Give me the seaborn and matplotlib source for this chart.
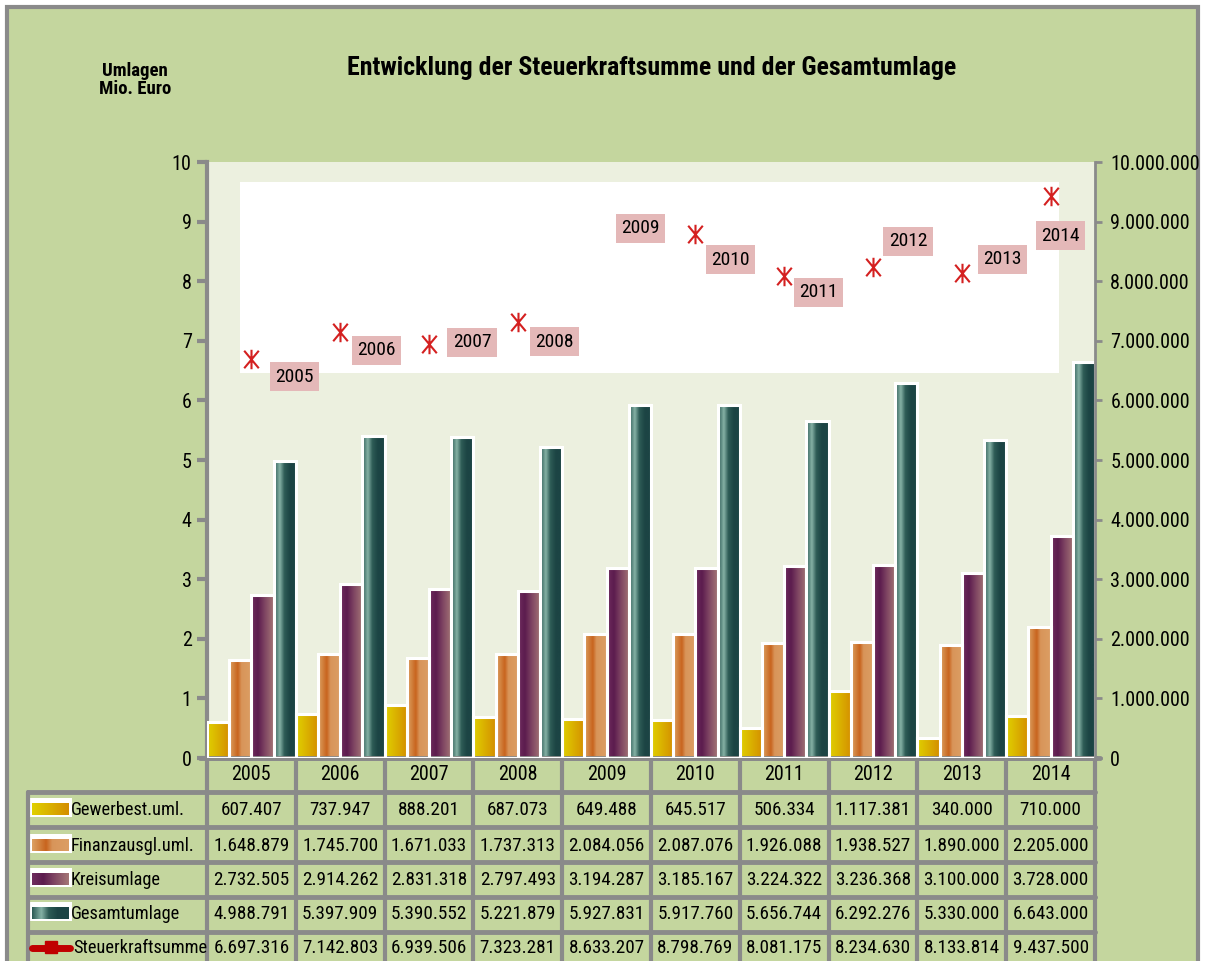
import matplotlib
matplotlib.use("Agg")
import matplotlib.pyplot as plt
import numpy as np
import pandas as pd
import seaborn as sns
from matplotlib import font_manager
from matplotlib.colors import LinearSegmentedColormap
from matplotlib.patches import Rectangle
from matplotlib.path import Path

# --- Daten ---
jahre = [str(j) for j in range(2005, 2015)]
gewerbest = [607407, 737947, 888201, 687073, 649488, 645517, 506334, 1117381, 340000, 710000]
finanzausgl = [1648879, 1745700, 1671033, 1737313, 2084056, 2087076, 1926088, 1938527, 1890000, 2205000]
kreisumlage = [2732505, 2914262, 2831318, 2797493, 3194287, 3185167, 3224322, 3236368, 3100000, 3728000]
gesamtumlage = [4988791, 5397909, 5390552, 5221879, 5927831, 5917760, 5656744, 6292276, 5330000, 6643000]
steuerkraft = [6697316, 7142803, 6939506, 7323281, 8633207, 8798769, 8081175, 8234630, 8133814, 9437500]
serien = ["Gewerbest.uml.", "Finanzausgl.uml.", "Kreisumlage", "Gesamtumlage"]
linie = "Steuerkraftsumme"

# label offsets (pixels, dx / dy downwards) for the year boxes
label_offsets = [(43, 18), (36, 18), (43, -2), (37, 20), (34, -15),
                 (35, 26), (34, 16), (35, -26), (41, -14), (10, 40)]

W, H = 1208, 961
GREEN = "#c4d69e"
PALE = "#ecf0df"
GREY = "#8a8a8a"
PINK = "#e4b8b8"
RED = "#d42020"

# pick a condensed family close to Arial Narrow
installed = {f.name for f in font_manager.fontManager.ttflist}
narrow = next((f for f in ["Liberation Sans Narrow", "Roboto Condensed", "Archivo Narrow",
                           "PT Sans Narrow", "Sofia Sans Condensed", "Cabin Condensed"]
               if f in installed), "Liberation Sans")
FONT = [narrow, "DejaVu Sans"]

gradients = {
    "Gewerbest.uml.": [(0, "#e0d000"), (0.5, "#dab000"), (1, "#d48e00")],
    "Finanzausgl.uml.": [(0, "#dca062"), (0.25, "#cf7a36"), (0.38, "#c8641e"),
                         (0.55, "#d8955a"), (1, "#dc9e64")],
    "Kreisumlage": [(0, "#6e2c5e"), (0.3, "#5c1c4e"), (0.6, "#7e4462"), (1, "#a47676")],
    "Gesamtumlage": [(0, "#2c5a54"), (0.25, "#86b2a6"), (0.45, "#2e5c56"),
                     (0.7, "#1c4444"), (1, "#1c4444")],
}
cmaps = {k: LinearSegmentedColormap.from_list(k, v) for k, v in gradients.items()}
base_colors = {"Gewerbest.uml.": "#dab000", "Finanzausgl.uml.": "#d8955a",
               "Kreisumlage": "#6e2c5e", "Gesamtumlage": "#1c4444"}

sns.set_theme(style="white")
plt.rcParams["font.family"] = FONT

fig = plt.figure(figsize=(W / 100, H / 100), dpi=100, facecolor="white")

# background / table layer in pixel coordinates
bg = fig.add_axes([0, 0, 1, 1], zorder=0)
bg.set_xlim(0, W)
bg.set_ylim(H, 0)
bg.axis("off")
bg.add_patch(Rectangle((7, 7), 1191, 990, fc=GREEN, ec=GREY, lw=3, clip_on=False))

bg.text(652, 68, "Entwicklung der Steuerkraftsumme und der Gesamtumlage",
        ha="center", va="center", fontsize=18.6, fontweight="bold", color="black")
bg.text(135, 80, "Umlagen\nMio. Euro", ha="center", va="center",
        fontsize=13.5, fontweight="bold", linespacing=1.05, color="black")

# --- main chart ---
x0, x1, ytop, ybot = 207, 1095, 162, 758
ax = fig.add_axes([x0 / W, (H - ybot) / H, (x1 - x0) / W, (ybot - ytop) / H], zorder=2)
ax.set_facecolor(PALE)

df = pd.DataFrame({
    "Jahr": jahre * 4,
    "Art": np.repeat(serien, len(jahre)),
    "Wert": np.concatenate([gewerbest, finanzausgl, kreisumlage, gesamtumlage]) / 1e6,
})
sns.barplot(data=df, x="Jahr", y="Wert", hue="Art", order=jahre, hue_order=serien,
            palette=base_colors, width=1.0, gap=0, edgecolor="white", linewidth=2.2,
            legend=False, ax=ax, zorder=3)

grad = np.linspace(0, 1, 64).reshape(1, -1)
for name, cont in zip(serien, ax.containers):
    for p in cont:
        bx, by, bw, bh = p.get_x(), p.get_y(), p.get_width(), p.get_height()
        im = ax.imshow(grad, aspect="auto", cmap=cmaps[name], interpolation="bilinear",
                       extent=(bx, bx + bw, by, by + bh), zorder=2.5)
        im.set_clip_path(p)
        p.set_facecolor("none")

# white area behind the markers
ax.add_patch(Rectangle((-0.128, 6.46), 9.22, 3.2, fc="white", ec="none", zorder=1))

# asterisk-like marker
star = Path([(0, -1), (0, 1), (-0.75, -0.9), (0.75, 0.9), (-0.75, 0.9), (0.75, -0.9)],
            [Path.MOVETO, Path.LINETO] * 3)
sk = np.array(steuerkraft) / 1e6
ax.plot(range(len(jahre)), sk, ls="none", marker=star, ms=14, mew=1.5, color=RED,
        markevery=[i for i in range(len(jahre)) if i != 4], zorder=5)
for i, (j, v) in enumerate(zip(jahre, sk)):
    dx, dy = label_offsets[i]
    ax.annotate(j, (i, v), xytext=(dx, -dy), textcoords="offset pixels",
                ha="center", va="center", fontsize=14, zorder=6, color="black",
                bbox=dict(boxstyle="square,pad=0.28", fc=PINK, ec="none"))

ax.set_xlim(-0.5, 9.5)
ax.set_ylim(0, 10)
ax.set_yticks(range(0, 11))
ax.set_xlabel("")
ax.set_ylabel("")
ax.set_xticks([])
ax.tick_params(axis="y", direction="out", length=7, width=3, color=GREY,
               labelsize=14.5, pad=4, left=True, labelcolor="black")
for s in ["top", "right"]:
    ax.spines[s].set_visible(False)
ax.spines["left"].set_color(GREY)
ax.spines["left"].set_linewidth(3)
ax.spines["bottom"].set_color(GREY)
ax.spines["bottom"].set_linewidth(3.5)

ax2 = ax.twinx()
ax2.set_zorder(3)
ax2.set_ylim(0, 1e7)
rticks = np.arange(0, 1e7 + 1, 1e6)
ax2.set_yticks(rticks)
ax2.set_yticklabels([f"{int(t):,}".replace(",", ".") for t in rticks])
ax2.tick_params(axis="y", direction="out", length=5, width=2, color=GREY,
                labelsize=14.5, pad=6, right=True, labelcolor="black")
for s in ["top", "left", "bottom"]:
    ax2.spines[s].set_visible(False)
ax2.spines["right"].set_color(GREY)
ax2.spines["right"].set_linewidth(2)
ax2.grid(False)

# --- data table ---
cw = (x1 - x0) / len(jahre)
col_x = [x0 + cw * k for k in range(len(jahre) + 1)]
row_lines = [792, 827, 862, 897, 932]
row_mid = [810, 846, 880, 914, 948]
for x in col_x:
    bg.plot([x, x], [ybot, H + 5], color=GREY, lw=3, clip_on=False)
bg.plot([28, 28], [792, H + 5], color=GREY, lw=3, clip_on=False)
for y in row_lines:
    bg.plot([28, x1], [y, y], color=GREY, lw=3.5)
bg.plot([200, x1 + 5], [ybot, ybot], color=GREY, lw=3.5)

for k, j in enumerate(jahre):
    bg.text(col_x[k] + cw / 2, 775, j, ha="center", va="center", fontsize=14.5, color="black")

werte = [gewerbest, finanzausgl, kreisumlage, gesamtumlage, steuerkraft]
for r, (name, vals) in enumerate(zip(serien + [linie], werte)):
    yc = row_mid[r]
    bg.text(71 if r < 4 else 73, yc, name, ha="left", va="center", fontsize=13.2, color="black")
    for k, v in enumerate(vals):
        bg.text(col_x[k] + cw / 2, yc, f"{v:,}".replace(",", "."),
                ha="center", va="center", fontsize=13.8, color="black")
    if r < 4:
        bg.add_patch(Rectangle((29, yc - 12), 43, 19, fc="white", ec="none"))
        bg.imshow(grad, aspect="auto", cmap=cmaps[name], interpolation="bilinear",
                  extent=(32, 69, yc + 5, yc - 7), zorder=3)
    else:
        bg.plot([32, 70], [yc, yc], color="#c00000", lw=5, solid_capstyle="round")
        bg.plot([51], [yc - 1], marker="s", ms=8, color="#c00000")

bg.set_xlim(0, W)
bg.set_ylim(H, 0)

fig.savefig("out.png", dpi=100, facecolor="white")
